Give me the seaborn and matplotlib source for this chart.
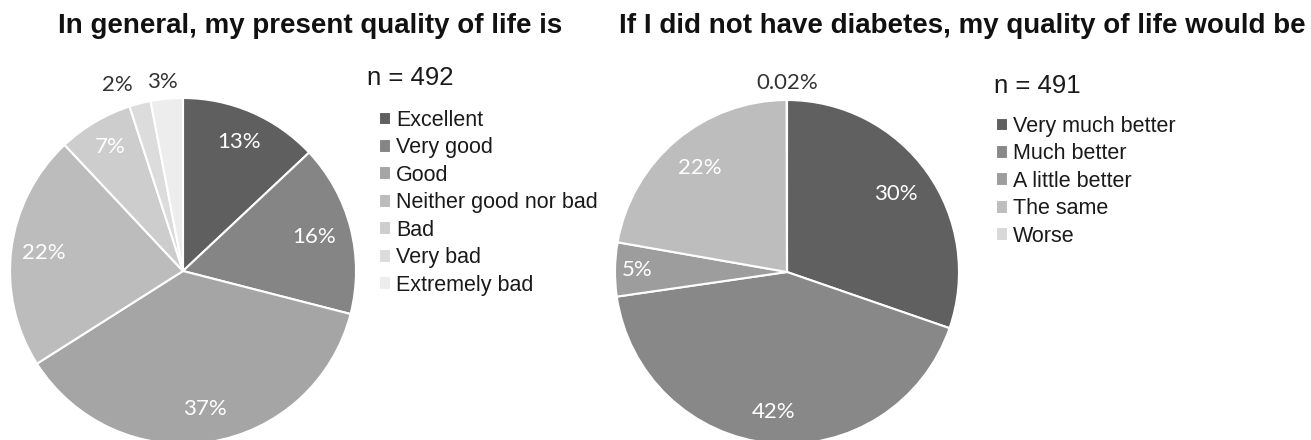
import numpy as np
import matplotlib
matplotlib.use("Agg")
import matplotlib.pyplot as plt
import seaborn as sns


# Data
present_labels = ["Excellent", "Very good", "Good", "Neither good nor bad",
                  "Bad", "Very bad", "Extremely bad"]
present_values = [13, 16, 37, 22, 7, 2, 3]
present_n = 492

without_labels = ["Very much better", "Much better", "A little better",
                  "The same", "Worse"]
without_values = [30, 42, 5, 22, 0.02]
without_n = 491

# -------------------------------
# Style
# -------------------------------
sns.set_theme(style="white")
plt.rcParams["font.family"] = ["Liberation Sans", "DejaVu Sans"]

present_colors = sns.color_palette(["#5f5f5f", "#858585", "#a5a5a5", "#bcbcbc",
                                    "#cdcdcd", "#dcdcdc", "#ededed"])
without_colors = sns.color_palette(["#606060", "#888888", "#9d9d9d", "#bdbdbd",
                                    "#d9d9d9"])

W, H = 1311, 440
fig = plt.figure(figsize=(W / 100, H / 100), dpi=100)


def draw_pie(ax, values, colors, dists, txt_colors, nudges):
    wedges, _ = ax.pie(values, colors=colors, startangle=90, counterclock=False,
                       radius=1, wedgeprops=dict(edgecolor="white", linewidth=1.5))
    for w, v, d, c, (nx, ny) in zip(wedges, values, dists, txt_colors, nudges):
        ang = np.deg2rad((w.theta1 + w.theta2) / 2)
        ax.annotate(f"{v:g}%", xy=(d * np.cos(ang), d * np.sin(ang)),
                    xytext=(nx, ny), textcoords="offset pixels",
                    ha="center", va="center", color=c, fontsize=16,
                    family=["Lato", "DejaVu Sans"], annotation_clip=False)
    ax.set_xlim(-1, 1)
    ax.set_ylim(-1, 1)
    ax.set_aspect("equal")
    ax.axis("off")
    return wedges


# -------------------------------
# Left pie: present quality of life
# -------------------------------
r = 173
ax1 = fig.add_axes([(183 - r) / W, (H - 271 - r) / H, 2 * r / W, 2 * r / H])
w1 = draw_pie(ax1, present_values, present_colors,
              [0.81, 0.78, 0.81, 0.81, 0.83, 1.11, 1.11],
              ["white"] * 5 + ["#333333"] * 2,
              [(0, 0)] * 5 + [(-18, 0), (-3, -2)])

# -------------------------------
# Right pie: without diabetes
# -------------------------------
r = 172
ax2 = fig.add_axes([(787 - r) / W, (H - 272 - r) / H, 2 * r / W, 2 * r / H])
w2 = draw_pie(ax2, without_values, without_colors,
              [0.78, 0.82, 0.87, 0.79, 1.10],
              ["white"] * 4 + ["#333333"],
              [(0, 0)] * 5)

# Titles
fig.text(310 / W, 1 - 33 / H, "In general, my present quality of life is",
         ha="center", va="baseline", fontsize=20, fontweight="bold", color="#111111")
fig.text(962 / W, 1 - 33 / H, "If I did not have diabetes, my quality of life would be",
         ha="center", va="baseline", fontsize=20, fontweight="bold", color="#111111")

# n annotations
fig.text(367 / W, 1 - 85 / H, f"n = {present_n}", ha="left", va="baseline",
         fontsize=18.5, color="#1a1a1a")
fig.text(994 / W, 1 - 93 / H, f"n = {without_n}", ha="left", va="baseline",
         fontsize=18.5, color="#1a1a1a")

# Legends
leg_kw = dict(loc="upper left", frameon=False, fontsize=15.5,
              handlelength=0.55, handleheight=0.6, handletextpad=0.25,
              labelspacing=0.30, borderpad=0, borderaxespad=0,
              labelcolor="#1a1a1a")
fig.legend(w1, present_labels, bbox_to_anchor=(379 / W, 1 - 110 / H), **leg_kw)
fig.legend(w2, without_labels, bbox_to_anchor=(996 / W, 1 - 116 / H), **leg_kw)

plt.savefig("out.png", dpi=100)
